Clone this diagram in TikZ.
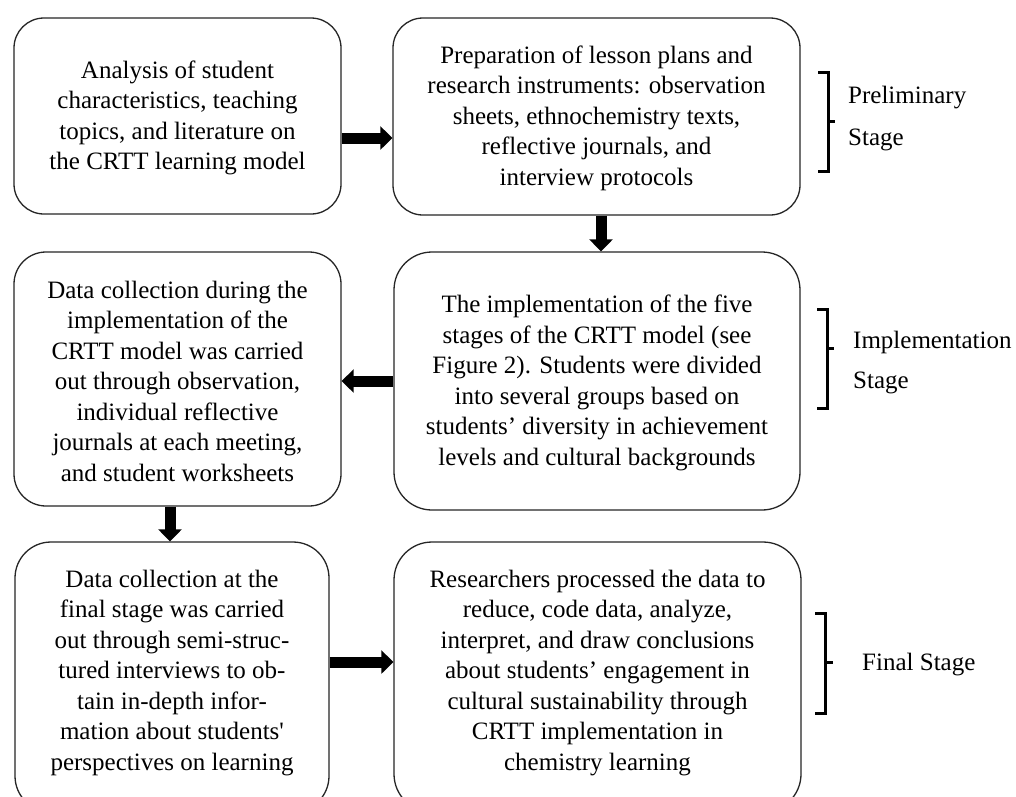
\documentclass[tikz,border=0pt]{standalone}
\usepackage{fontspec}
\setmainfont{Liberation Serif}
\usetikzlibrary{arrows.meta}
\begin{document}
\begin{tikzpicture}[x=1pt,y=-1pt,
  box/.style={draw=black!85,line width=1.3pt,rectangle,inner sep=0pt},
  txt/.style={align=center,inner sep=0pt,font=\fontsize{25}{30.5}\selectfont},
  lab/.style={align=left,inner sep=0pt,font=\fontsize{25}{41}\selectfont},
  blockarrow/.style={line width=11pt,-{Triangle[length=12pt,width=23pt]}},
  brk/.style={line width=3pt}]
\useasboundingbox (0,0) rectangle (1016,796);
\fill[white] (0,0) rectangle (1016,796);
\begin{scope}
\clip (0,0) rectangle (1016,796);
% boxes
\node[box,rounded corners=30pt,minimum width=327pt,minimum height=196pt] (A) at (177.5,116) {};
\node[box,rounded corners=30pt,minimum width=407pt,minimum height=197pt] (B) at (596.5,116.5) {};
\node[box,rounded corners=32pt,minimum width=327pt,minimum height=254pt] (C) at (177.5,379) {};
\node[box,rounded corners=38pt,minimum width=406pt,minimum height=258pt] (D) at (597,381) {};
\node[box,rounded corners=36pt,minimum width=314pt,minimum height=270pt] (F) at (172,677) {};
\node[box,rounded corners=38pt,minimum width=407pt,minimum height=270pt] (E) at (597.5,677) {};
\end{scope}
% texts
\node[txt] (At) at (177.5,118) {Analysis of student\\characteristics, teaching\\topics, and literature on\\the CRTT learning model};
\node[txt] (Bt) at (596.5,118) {Preparation of lesson plans and\\research instruments: observation\\sheets, ethnochemistry texts,\\reflective journals, and\\interview protocols};
\node[txt] (Ct) at (177.5,381) {Data collection during the\\implementation of the\\CRTT model was carried\\out through observation,\\individual reflective\\journals at each meeting,\\and student worksheets};
\node[txt] (Dt) at (597,383) {The implementation of the five\\stages of the CRTT model (see\\Figure 2). Students were divided\\into several groups based on\\students’ diversity in achievement\\levels and cultural backgrounds};
\node[txt] (Ft) at (172,673) {Data collection at the\\final stage was carried\\out through semi-struc-\\tured interviews to ob-\\tain in-depth infor-\\mation about students\textquotesingle\\perspectives on learning};
\node[txt] (Et) at (597.5,673) {Researchers processed the data to\\reduce, code data, analyze,\\interpret, and draw conclusions\\about students’ engagement in\\cultural sustainability through\\CRTT implementation in\\chemistry learning};
% arrows
\draw[blockarrow] (A.east |- 0,138) -- (B.west |- 0,138);
\draw[blockarrow] (B.south -| 601,0) -- (D.north -| 601,0);
\draw[blockarrow] (D.west |- 0,381) -- (C.east |- 0,381);
\draw[blockarrow] (C.south -| 170,0) -- (F.north -| 170,0);
\draw[blockarrow] (F.east |- 0,662) -- (E.west |- 0,662);
% brackets
\draw[brk] (818,72) -- (828,72) -- (828,171) -- (818,171);
\draw[brk] (828,121) -- (835,121);
\draw[brk] (817,309) -- (827,309) -- (827,408) -- (817,408);
\draw[brk] (827,348) -- (834,348);
\draw[brk] (815,613) -- (825,613) -- (825,713) -- (815,713);
\draw[brk] (825,662) -- (833,662);
% labels
\node[lab,anchor=base west] (Pl) at (848,103) {Preliminary};
\node[lab,anchor=base west] (Ps) at (848,145) {Stage};
\node[lab,anchor=base west] (Il) at (853,348) {Implementation};
\node[lab,anchor=base west] (Is) at (853,388) {Stage};
\node[lab,anchor=base west] (Fl) at (862,670) {Final Stage};
\end{tikzpicture}
\end{document}
